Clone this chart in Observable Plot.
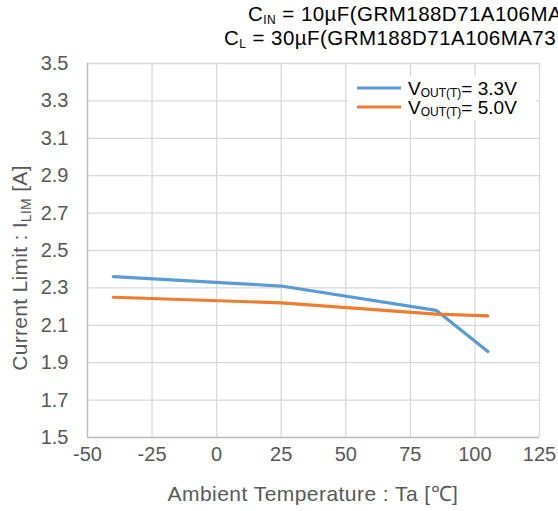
<!DOCTYPE html>
<html>
<head>
<meta charset="utf-8">
<script src="https://cdn.jsdelivr.net/npm/d3@7"></script>
<script src="https://cdn.jsdelivr.net/npm/@observablehq/plot@0.6"></script>
<style>
  html, body { margin: 0; padding: 0; background: #fff; }
  #chart svg { display: block; }
</style>
</head>
<body>
<div id="chart"></div>
<script>
const temps = [-40, 25, 85, 105];
const ilim33 = [2.36, 2.31, 2.18, 1.96];
const ilim50 = [2.25, 2.22, 2.16, 2.15];
const seriesNames = ["3.3V", "5.0V"];
const seriesColors = ["#5b9bd5", "#ed7d31"];
const xTicks = [-50, -25, 0, 25, 50, 75, 100, 125];
const yTicks = [1.5, 1.7, 1.9, 2.1, 2.3, 2.5, 2.7, 2.9, 3.1, 3.3, 3.5];

const data = [];
temps.forEach((t, i) => {
  data.push({ series: seriesNames[0], t, v: ilim33[i] });
});
temps.forEach((t, i) => {
  data.push({ series: seriesNames[1], t, v: ilim50[i] });
});

const font = "'Liberation Sans', Arial, sans-serif";
const W = 558, H = 511;
const mL = 87, mR = 19, mT = 63, mB = 74;

const chart = Plot.plot({
  width: W,
  height: H,
  marginLeft: mL,
  marginRight: mR,
  marginTop: mT,
  marginBottom: mB,
  style: { fontFamily: font, fontSize: "20px", color: "#595959", background: "#fff" },
  x: { domain: [-50, 125], ticks: xTicks, label: null },
  y: { domain: [1.5, 3.5], ticks: yTicks, label: null },
  color: { domain: seriesNames, range: seriesColors },
  marks: [
    Plot.gridX(xTicks, { stroke: "#d9d9d9", strokeOpacity: 1, strokeWidth: 1.3 }),
    Plot.gridY(yTicks, { stroke: "#d9d9d9", strokeOpacity: 1, strokeWidth: 1.3 }),
    Plot.ruleX([-50], { stroke: "#bfbfbf", strokeWidth: 1.3 }),
    Plot.ruleY([1.5], { stroke: "#bfbfbf", strokeWidth: 1.3 }),
    Plot.axisX(xTicks, { tickSize: 0, tickPadding: 9, fill: "#595959", fontSize: 20, tickFormat: d => String(d) }),
    Plot.axisY(yTicks, { tickSize: 0, tickPadding: 19, fill: "#595959", fontSize: 20, tickFormat: d => d.toFixed(1) }),
    Plot.line(data, { x: "t", y: "v", z: "series", stroke: "series", strokeWidth: 3.2, strokeLinejoin: "round", strokeLinecap: "round" })
  ]
});

document.getElementById("chart").appendChild(chart);

const svg = d3.select(chart);
svg.attr("overflow", "hidden");

function subText(g, x, y, base, sub, rest, size, subSize, fill, ls) {
  const t = g.append("text")
    .attr("x", x).attr("y", y)
    .attr("font-family", font).attr("font-size", size)
    .attr("fill", fill)
    .attr("letter-spacing", ls || 0)
    .attr("text-anchor", "start");
  t.append("tspan").text(base);
  t.append("tspan").attr("font-size", subSize).attr("dy", 3).text(sub);
  t.append("tspan").attr("dy", -3).text(rest);
  return t;
}

// Title lines (top right)
const tg = svg.append("g");
subText(tg, 248, 21, "C", "IN", " = 10µF(GRM188D71A106MA", 20.5, 12, "#000", 0.45);
subText(tg, 224, 45, "C", "L", " = 30µF(GRM188D71A106MA73", 20.5, 12, "#000", 0.45);

// Y axis title
const yl = svg.append("text")
  .attr("transform", "translate(27,268) rotate(-90)")
  .attr("text-anchor", "middle")
  .attr("font-family", font).attr("font-size", 21)
  .attr("letter-spacing", 0.3)
  .attr("fill", "#595959");
yl.append("tspan").text("Current Limit : I");
yl.append("tspan").attr("font-size", 14).attr("dy", 4).text("LIM");
yl.append("tspan").attr("dy", -4).text(" [A]");

// X axis title
svg.append("text")
  .attr("x", (mL + (W - mR)) / 2).attr("y", 501)
  .attr("text-anchor", "middle")
  .attr("font-family", font).attr("font-size", 21)
  .attr("letter-spacing", 0.45)
  .attr("fill", "#595959")
  .text("Ambient Temperature : Ta [℃]");

// Legend
const lg = svg.append("g");
lg.append("rect").attr("x", 348).attr("y", 76).attr("width", 188).attr("height", 44).attr("fill", "#fff");
seriesNames.forEach((s, i) => {
  const y = 88 + i * 19;
  lg.append("line").attr("x1", 357).attr("x2", 401).attr("y1", y).attr("y2", y)
    .attr("stroke", seriesColors[i]).attr("stroke-width", 3.2);
  const t = lg.append("text").attr("x", 408).attr("y", y + 7)
    .attr("font-family", font).attr("font-size", 19).attr("fill", "#000")
    .attr("text-anchor", "start");
  t.append("tspan").text("V");
  t.append("tspan").attr("font-size", 12).attr("dy", 2).text("OUT(T)");
  t.append("tspan").attr("dy", -2).text("= " + s);
});
</script>
</body>
</html>
